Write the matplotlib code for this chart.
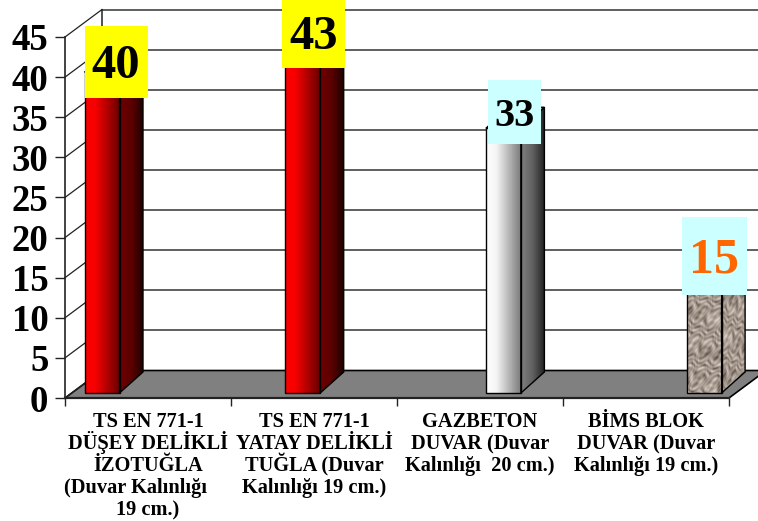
import numpy as np
import matplotlib
matplotlib.use("Agg")
import matplotlib.pyplot as plt
from matplotlib.patches import Polygon, Rectangle
from matplotlib.colors import LinearSegmentedColormap
from matplotlib.transforms import blended_transform_factory

plt.rcParams['font.family'] = ['Liberation Serif', 'DejaVu Serif']
plt.rcParams['font.weight'] = 'bold'

categories = [
    ["TS EN 771-1", "DÜŞEY DELİKLİ", "İZOTUĞLA", "(Duvar Kalınlığı     ", "19 cm.)"],
    ["TS EN 771-1", "YATAY DELİKLİ", "TUĞLA (Duvar", "Kalınlığı 19 cm.)"],
    ["GAZBETON", "DUVAR (Duvar", "Kalınlığı  20 cm.)"],
    ["BİMS BLOK", "DUVAR (Duvar", "Kalınlığı 19 cm.)"],
]
values = [40, 43, 33, 15]
value_labels = ["40", "43", "33", "15"]
y_ticks = [0, 5, 10, 15, 20, 25, 30, 35, 40, 45]

W, H = 758, 521
X0, X1, Y0, Y1 = 65, 729, 398, 37      # front plane of the plot, pixels
fig = plt.figure(figsize=(W / 100, H / 100), dpi=100)
ax = fig.add_axes([X0 / W, 1 - Y0 / H, (X1 - X0) / W, (Y0 - Y1) / H])
ax.set_xlim(0, len(values))
ax.set_ylim(0, 45)
ax.set_autoscale_on(False)
ax.patch.set_alpha(0)

ux = len(values) / (X1 - X0)   # data units per pixel
uy = 45 / (Y0 - Y1)

# depth of the wall and of the bars, pixels
WALL_DX, WALL_DY = 37, 27.5
BAR_DX, BAR_DY = 23.5, 21
BAR_W = 35
BAR_FIRST, BAR_STEP = 84.5, 200.7
BASE_LIFT = 5

dxw, dyw = WALL_DX * ux, WALL_DY * uy
n = len(values)

# floor
ax.add_patch(Polygon([(0, 0), (n, 0), (n + dxw, dyw), (dxw, dyw)], closed=True,
                     fc='#808080', ec='black', lw=1.2, zorder=1, clip_on=False))
# back wall grid and left wall
for t in y_ticks:
    c = '#333333'
    ax.plot([dxw, n + dxw], [t + dyw, t + dyw], color=c, lw=1.1, zorder=1.5 if t else 0.5, clip_on=False)
    ax.plot([0, dxw], [t, t + dyw], color='#222222', lw=0.9, zorder=1.5, clip_on=False)
ax.plot([dxw, dxw], [dyw, 45 + dyw], color='#222222', lw=1.1, zorder=1.5, clip_on=False)

cm_red_f = LinearSegmentedColormap.from_list('a', [(0, '#ff0000'), (0.3, '#f50000'), (1, '#6a0000')])
cm_red_s = LinearSegmentedColormap.from_list('b', [(0, '#700000'), (0.5, '#5a0000'), (1, '#1c0000')])
cm_gry_f = LinearSegmentedColormap.from_list('c', [(0, '#ffffff'), (0.3, '#f4f4f4'), (1, '#7c7c7c')])
cm_gry_s = LinearSegmentedColormap.from_list('d', [(0, '#808080'), (0.5, '#606060'), (1, '#202020')])
ramp = np.linspace(0, 1, 64)[None, :]

# stone texture, a fixed pattern of warped waves
yy, xx = np.mgrid[0:120, 0:36]
warp = 2.2 * np.sin(yy * 0.19 + xx * 0.07) + 1.7 * np.sin(xx * 0.41 - yy * 0.11)
stone = (np.sin(yy * 0.93 + warp * 1.4) + 0.8 * np.sin(xx * 0.47 + yy * 0.37 + warp)
         + 0.6 * np.sin(xx * 1.21 - yy * 0.53 + 2.0 * warp))
stone = (stone - stone.min()) / (stone.max() - stone.min())
cm_stone = LinearSegmentedColormap.from_list('s', ['#5f5349', '#94877c', '#b5a89e', '#dcd4cc'])

def face(poly, extent, img, cmap, z):
    im = ax.imshow(img, cmap=cmap, extent=extent, aspect='auto', zorder=z,
                   origin='lower', vmin=0, vmax=1, interpolation='bilinear')
    im.set_clip_box(fig.bbox)
    patch = Polygon(poly, closed=True, fc='none', ec='black', lw=1.0, zorder=z + 0.01, clip_on=False)
    ax.add_patch(patch)
    im.set_clip_path(patch)

styles = [(cm_red_f, cm_red_s, '#8a0000'), (cm_red_f, cm_red_s, '#8a0000'),
          (cm_gry_f, cm_gry_s, '#aaaaaa'), (None, None, '#b0a49a')]

for i, v in enumerate(values):
    xl = (BAR_FIRST + i * BAR_STEP - X0) * ux
    xr = xl + BAR_W * ux
    y0 = BASE_LIFT * uy
    yt = v + y0
    dx, dy = BAR_DX * ux, BAR_DY * uy
    cf, cs, ct = styles[i]
    z = 3 + i * 0.1
    front = [(xl, y0), (xr, y0), (xr, yt), (xl, yt)]
    side = [(xr, y0), (xr + dx, y0 + dy), (xr + dx, yt + dy), (xr, yt)]
    top = [(xl, yt), (xr, yt), (xr + dx, yt + dy), (xl + dx, yt + dy)]
    ax.add_patch(Polygon(top, closed=True, fc=ct, ec='black', lw=1.0, zorder=z, clip_on=False))
    if cf is not None:
        face(front, [xl, xr, y0, yt], ramp, cf, z)
        face(side, [xr, xr + dx, y0, yt + dy], ramp, cs, z)
    else:
        face(front, [xl, xr, y0, yt], stone, cm_stone, z)
        face(side, [xr, xr + dx, y0, yt + dy], stone[::-1, ::-1], cm_stone, z)

# value label boxes, offsets in pixels from the bar's front top-left corner
box_dx = [0, -3, 2, -5]
box_w = [63, 63, 53, 65]
box_up = [46, 48, 48, 56]
box_down = [26, 20, 16, 22]
box_cols = ['#ffff00', '#ffff00', '#ccffff', '#ccffff']
txt_cols = ['black', 'black', 'black', '#ff6600']
txt_size = [35, 35, 29, 36]
txt_base = [16, 15, 14, 16.5]
for i, v in enumerate(values):
    xl = (BAR_FIRST + i * BAR_STEP - X0) * ux + box_dx[i] * ux
    yt = v + BASE_LIFT * uy
    ax.add_patch(Rectangle((xl, yt - box_down[i] * uy), box_w[i] * ux,
                           (box_up[i] + box_down[i]) * uy, fc=box_cols[i], ec='none',
                           zorder=5, clip_on=False))
    cy = yt + (box_up[i] - box_down[i]) / 2 * uy
    ax.text(xl + box_w[i] * ux / 2, cy - txt_base[i] * uy, value_labels[i], color=txt_cols[i],
            fontsize=txt_size[i], fontweight='bold', ha='center', va='baseline', zorder=6, clip_on=False)

# axes
for s in ('top', 'right'):
    ax.spines[s].set_visible(False)
ax.spines['left'].set_linewidth(1.2)
ax.spines['bottom'].set_linewidth(1.6)
ax.spines['left'].set_color('#222222')
ax.spines['bottom'].set_color('#222222')
ax.spines['left'].set_zorder(2)
ax.spines['bottom'].set_zorder(2)
ax.set_yticks(y_ticks)
ax.set_yticklabels([str(t) for t in y_ticks], fontsize=26.5, fontweight='bold')
ax.tick_params(axis='y', length=7, width=1.0, pad=5, color='#222222')
ax.set_xticks(range(n + 1))
ax.set_xticklabels([''] * (n + 1))
ax.tick_params(axis='x', which='major', length=6, width=1.0, color='#222222')

# category labels: one text per line so the baselines stay evenly spaced
FIRST_BASELINE, LINE_STEP = 29, 22   # pixels below the x axis
trans = blended_transform_factory(ax.transData, ax.transAxes)
for i, lines in enumerate(categories):
    for j, line in enumerate(lines):
        ax.text(i + 0.5, -(FIRST_BASELINE + j * LINE_STEP) / (Y0 - Y1), line, transform=trans,
                fontsize=14.7, fontweight='bold', ha='center', va='baseline', clip_on=False)

fig.savefig('out.png', dpi=100, facecolor='white')
